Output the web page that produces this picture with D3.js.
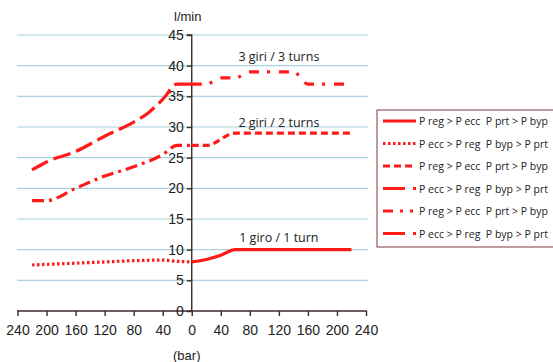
<!DOCTYPE html>
<html>
<head>
<meta charset="utf-8">
<script src="https://cdn.jsdelivr.net/npm/d3@7"></script>
<style>
  body { margin: 0; background: #fff; }
  svg { display: block; font-family: "Liberation Sans", Arial, sans-serif; }
  .legend text { white-space: pre; }
</style>
</head>
<body>
<div id="chart"></div>
<script>
// pressure (bar): negative = left half of the chart
var oneTurnReg = [[0, 8], [20, 8.4], [40, 9.1], [60, 10], [100, 10], [160, 10], [220, 10]];
var oneTurnEcc = [[-220, 7.5], [-200, 7.6], [-160, 7.8], [-120, 8.0], [-80, 8.2], [-40, 8.3], [-20, 8.1], [0, 8]];
var twoTurnReg = [[0, 27], [20, 27], [60, 29], [100, 29], [160, 29], [220, 29]];
var twoTurnEcc = [[-220, 18], [-200, 18], [-160, 20], [-120, 22], [-80, 23.5], [-40, 25.5], [-20, 27], [0, 27]];
var threeTurnReg = [[0, 37], [20, 37], [40, 38], [60, 38], [80, 39], [140, 39], [160, 37], [220, 37]];
var threeTurnEcc = [[-220, 23], [-200, 24.3], [-160, 26], [-120, 28.5], [-80, 30.8], [-60, 32.3], [-40, 34.5], [-20, 37], [0, 37]];

var xTicks = [-240, -200, -160, -120, -80, -40, 0, 40, 80, 120, 160, 200, 240];
var yTicks = [0, 5, 10, 15, 20, 25, 30, 35, 40, 45];

var curveLabels = [
  {text: "3 giri / 3 turns", x: 120, y: 40.8},
  {text: "2 giri / 2 turns", x: 120, y: 30},
  {text: "1 giro / 1 turn", x: 120, y: 11.2}
];

var legendLabels = [
  "P reg > P ecc  P prt > P byp",
  "P ecc > P reg  P byp > P prt",
  "P reg > P ecc  P prt > P byp",
  "P ecc > P reg  P byp > P prt",
  "P reg > P ecc  P prt > P byp",
  "P ecc > P reg  P byp > P prt"
];

var series = [oneTurnReg, oneTurnEcc, twoTurnReg, twoTurnEcc, threeTurnReg, threeTurnEcc];
var dashes = [null, "2.5,2.5", "7,4", "12,5,3,5", "10,8,3,9", "18,6"];
var legendDashes = [null, "2.5,2.5", "7,4", "22,8,3,30", "10,7,3,7,3,30", "22,8,3,30"];

var width = 553, height = 362;
var red = "#ff1a1a";

var svg = d3.select("#chart").append("svg")
  .attr("width", width)
  .attr("height", height);

var x = d3.scaleLinear().domain([-240, 240]).range([17.5, 366]);
var y = d3.scaleLinear().domain([0, 45]).range([311, 35]);

// gridlines
svg.selectAll(".grid")
  .data(yTicks.slice(1))
  .enter().append("line")
  .attr("x1", 17).attr("x2", 368)
  .attr("y1", function(d) { return y(d); })
  .attr("y2", function(d) { return y(d); })
  .attr("stroke", "#a9d3dd")
  .attr("stroke-width", 1.2);

// axes
var xAxis = d3.axisBottom(x)
  .tickValues(xTicks)
  .tickSize(5)
  .tickFormat(function(d) { return Math.abs(d); });

var gx = svg.append("g")
  .attr("transform", "translate(0," + y(0) + ")")
  .call(xAxis);
gx.select(".domain").attr("d", "M17,0H367");

var yAxis = d3.axisLeft(y)
  .tickValues(yTicks)
  .tickSize(5);

var gy = svg.append("g")
  .attr("transform", "translate(" + x(0) + ",0)")
  .call(yAxis);
gy.select(".domain").attr("d", "M-5," + y(45) + "H0V" + y(0));

svg.selectAll(".domain, .tick line")
  .attr("stroke", "#3b2a2a")
  .attr("stroke-width", 1.4);
gx.selectAll(".tick text")
  .attr("y", 14)
  .attr("font-size", 14)
  .attr("font-family", "'Liberation Sans', Arial, sans-serif")
  .attr("fill", "#222");
gy.selectAll(".tick text")
  .attr("x", -8)
  .attr("font-size", 14)
  .attr("font-family", "'Liberation Sans', Arial, sans-serif")
  .attr("fill", "#222");

svg.append("text")
  .attr("x", x(0) - 4).attr("y", 21)
  .attr("text-anchor", "middle")
  .attr("font-size", 13)
  .attr("fill", "#222")
  .text("l/min");

svg.append("text")
  .attr("x", x(0) - 5).attr("y", 360)
  .attr("text-anchor", "middle")
  .attr("font-size", 13)
  .attr("fill", "#222")
  .text("(bar)");

// curves
var line = d3.line()
  .x(function(d) { return x(d[0]); })
  .y(function(d) { return y(d[1]); })
  .curve(d3.curveMonotoneX);

svg.selectAll(".curve")
  .data(series)
  .enter().append("path")
  .attr("d", line)
  .attr("fill", "none")
  .attr("stroke", red)
  .attr("stroke-width", 3.2)
  .attr("stroke-dasharray", function(d, i) { return dashes[i]; });

svg.selectAll(".clabel")
  .data(curveLabels)
  .enter().append("text")
  .attr("x", function(d) { return x(d.x); })
  .attr("y", function(d) { return y(d.y); })
  .attr("text-anchor", "middle")
  .attr("font-size", 12.5)
  .attr("font-family", "'Open Sans', sans-serif")
  .attr("fill", "#222")
  .text(function(d) { return d.text; });

// legend
var legendRowHeight = 22.5;
var legend = svg.append("g")
  .attr("transform", "translate(377,110)");

legend.append("rect")
  .attr("width", 190)
  .attr("height", 137)
  .attr("fill", "#fff")
  .attr("stroke", "#7a3a3a")
  .attr("stroke-width", 1);

var item = legend.selectAll(".legend")
  .data(legendLabels)
  .enter().append("g")
  .attr("class", "legend")
  .attr("transform", function(d, i) {
    return "translate(6," + (11 + i * legendRowHeight) + ")";
  });

item.append("line")
  .attr("x1", 0).attr("x2", 33)
  .attr("stroke", red)
  .attr("stroke-width", 3)
  .attr("stroke-dasharray", function(d, i) { return legendDashes[i]; });

item.append("text")
  .attr("x", 36)
  .attr("y", 4)
  .attr("font-size", 10.5)
  .attr("font-family", "'Open Sans', sans-serif")
  .attr("fill", "#222")
  .text(function(d) { return d; });
</script>
</body>
</html>
